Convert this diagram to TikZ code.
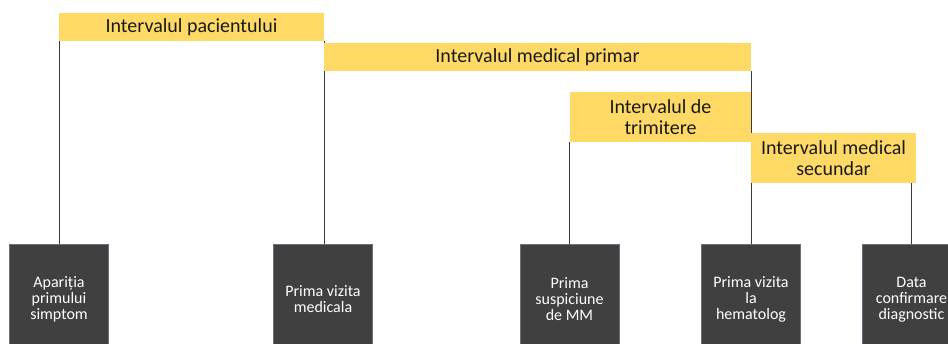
\documentclass[tikz,border=0pt]{standalone}
\usepackage{fontspec}
\setmainfont{Carlito}
\definecolor{gold}{HTML}{FFD966}
\definecolor{darkbox}{HTML}{404040}
\definecolor{darkedge}{HTML}{6A7080}
\definecolor{linec}{HTML}{3A3A3A}
\begin{document}
\begin{tikzpicture}[x=1pt,y=-1pt,
  interval/.style={fill=gold,draw=none,inner sep=0pt,align=center,font=\fontsize{20}{21}\selectfont,text=black!90},
  event/.style={fill=darkbox,draw=darkedge,line width=0.6pt,inner sep=0pt,minimum width=99pt,minimum height=110pt,anchor=north,align=center,text=white,font=\fontsize{16}{16}\selectfont},
  conn/.style={draw=linec,line width=1pt}]
\clip (0,0) rectangle (948,343);
\fill[white] (0,0) rectangle (948,343);
% events
\node[event] (d1) at (59,244) {Apariția\\primului\\simptom};
\node[event] (d2) at (323,244) {Prima vizita\\medicala};
\node[event] (d3) at (569.5,244) {Prima\\suspiciune\\de MM};
\node[event] (d4) at (751,244) {Prima vizita\\la\\hematolog};
\node[event] (d5) at (911.5,244) {Data\\confirmare\\diagnostic};
% intervals (shapes for anchoring)
\path node[interval,minimum width=265pt,minimum height=28pt] (y1) at (191.5,27) {}
      node[interval,minimum width=427pt,minimum height=28pt] (y2) at (537.5,57) {}
      node[interval,minimum width=181pt,minimum height=50pt] (y3) at (660.5,117) {}
      node[interval,minimum width=165pt,minimum height=50pt] (y4) at (833.5,158) {};
% connectors
\draw[conn] (d1.north |- y1.north) -- (d1.north);
\draw[conn] (y1.south east) -- (y1.south east |- d2.north);
\draw[conn] (y3.south west) -- (y3.south west |- d3.north);
\draw[conn] (y2.south east) -- (y2.south east |- d4.north);
\draw[conn] (d5.north |- y4.south) -- (d5.north);
% interval boxes on top of the lines
\node[interval,minimum width=265pt,minimum height=28pt] at (y1) {Intervalul pacientului};
\node[interval,minimum width=427pt,minimum height=28pt] at (y2) {Intervalul medical primar};
\node[interval,minimum width=181pt,minimum height=50pt] at (y3) {Intervalul de\\trimitere};
\node[interval,minimum width=165pt,minimum height=50pt] at (y4) {Intervalul medical\\secundar};
\end{tikzpicture}
\end{document}
